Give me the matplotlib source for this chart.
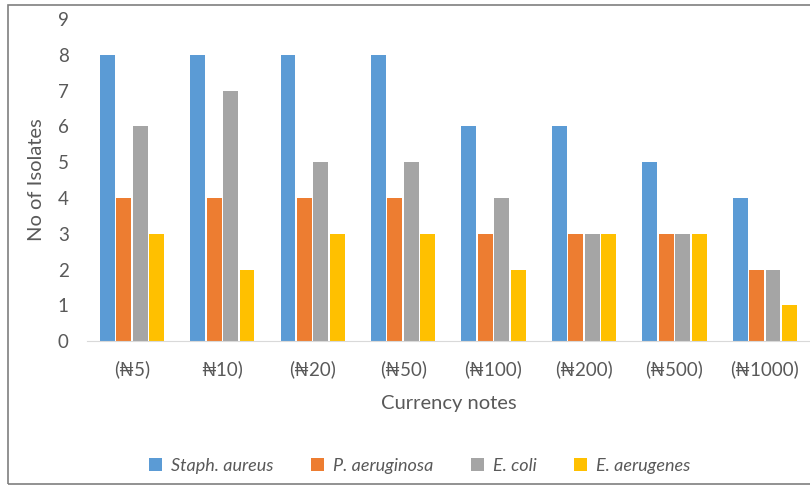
import numpy as np
import matplotlib.pyplot as plt
from matplotlib.patches import Rectangle

# isolates recovered per currency note denomination
notes = ['(₦5)', '₦10)', '(₦20)', '(₦50)', '(₦100)', '(₦200)', '(₦500)', '(₦1000)']
staph_aureus = [8, 8, 8, 8, 6, 6, 5, 4]
p_aeruginosa = [4, 4, 4, 4, 3, 3, 3, 2]
e_coli = [6, 7, 5, 5, 4, 3, 3, 2]
e_aerugenes = [3, 2, 3, 3, 2, 3, 3, 1]

series = [
    ('Staph. aureus', staph_aureus, '#5B9BD5'),
    ('P. aeruginosa', p_aeruginosa, '#ED7D31'),
    ('E. coli', e_coli, '#A5A5A5'),
    ('E. aerugenes', e_aerugenes, '#FFC000'),
]

plt.rcParams['font.family'] = ['Lato', 'DejaVu Sans']
txt = '#595959'

fig = plt.figure(figsize=(8.1, 4.86), dpi=100)
ax = fig.add_axes([0.107, 0.298, 0.893, 0.663])

x = np.arange(len(notes))
step = 0.182
width = 0.165
for i, (name, vals, col) in enumerate(series):
    ax.bar(x + (i - 1.5) * step, vals, width, color=col, label=name, zorder=2)

ax.set_xlim(-0.5, len(notes) - 0.5)
ax.set_ylim(0, 9)
ax.set_yticks(range(10))
ax.set_xticks(x)
ax.set_xticklabels(notes, fontsize=13.5, color=txt)
ax.tick_params(axis='y', labelsize=13.5, colors=txt, length=0, pad=13)
ax.tick_params(axis='x', length=0, pad=14)
for s in ['top', 'right', 'left']:
    ax.spines[s].set_visible(False)
ax.spines['bottom'].set_color('#D9D9D9')
ax.set_ylabel('No of Isolates', fontsize=14.5, color=txt, labelpad=9)
ax.set_xlabel('Currency notes', fontsize=14.5, color=txt, labelpad=12)

leg = fig.legend(loc='center', bbox_to_anchor=(0.518, 0.041), ncol=4, frameon=False,
                 handlelength=0.7, handleheight=0.7, handletextpad=0.5, columnspacing=2.1,
                 prop={'size': 13, 'style': 'italic'})
for t in leg.get_texts():
    t.set_color(txt)

# chart area border
fig.patches.append(Rectangle((8 / 810, 2 / 486), 1.2, 479 / 486, transform=fig.transFigure,
                             fill=False, edgecolor='#7F7F7F', linewidth=1.2))

fig.savefig('out.png', dpi=100)
